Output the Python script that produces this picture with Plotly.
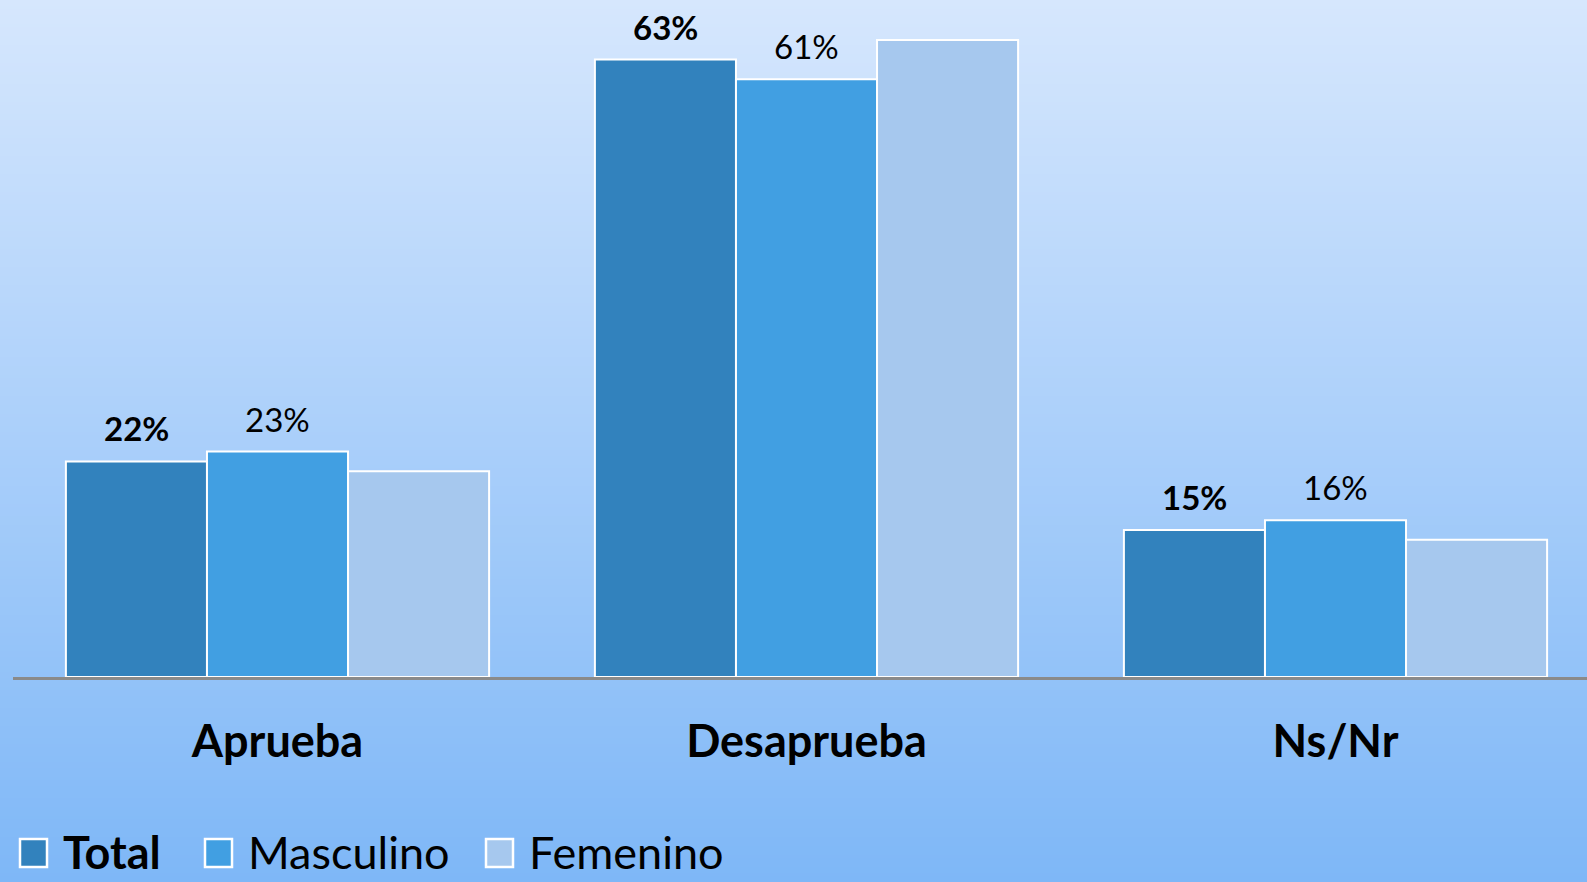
import plotly.graph_objects as go

categories = ["Aprueba", "Desaprueba", "Ns/Nr"]
series_names = ["Total", "Masculino", "Femenino"]
total = [22, 63, 15]
masculino = [23, 61, 16]
femenino = [21, 65, 14]
colors = ["#3282BD", "#419FE2", "#A6C8EE"]

W, H = 1587, 882
ML, MR, MT, MB = 13, 0, 0, 205
PW, PH = W - ML - MR, H - MT - MB

def px_x(x):
    return (x - ML) / PW

def px_y(y):
    return (H - MB - y) / PH

fig = go.Figure()
xs = list(range(len(categories)))
values = [total, masculino, femenino]
for name, vals, col in zip(series_names, values, colors):
    fig.add_trace(go.Bar(
        x=xs, y=vals, name=name, marker=dict(color=col, line=dict(color="white", width=2)),
        showlegend=False,
    ))

# gradient background
shapes = []
top = (214, 231, 253)
bot = (126, 183, 247)
step = 3
for y in range(0, H, step):
    t = (y + step / 2) / H
    c = tuple(round(top[i] + (bot[i] - top[i]) * t) for i in range(3))
    shapes.append(dict(type="rect", xref="paper", yref="paper", layer="below",
                       x0=px_x(0), x1=px_x(W), y0=px_y(y + step + 1), y1=px_y(y),
                       fillcolor="rgb(%d,%d,%d)" % c, line=dict(width=0)))

# data labels
annotations = []
bw = 0.8 / 3
for si, (vals, bold) in enumerate([(total, True), (masculino, False)]):
    for i, v in enumerate(vals):
        txt = f"{v}%"
        annotations.append(dict(x=i + (si - 1) * bw, y=v, xref="x", yref="y", text=f"<b>{txt}</b>" if bold else txt,
                                showarrow=False, yanchor="middle", yshift=33,
                                font=dict(family="Lato", size=33, color="black")))

# legend
leg_items = [(20, 61, True), (205, 246, False), (486, 527, False)]
for (sq, tx, bold), name, col in zip(leg_items, series_names, colors):
    shapes.append(dict(type="rect", xref="paper", yref="paper", x0=px_x(sq), x1=px_x(sq + 27),
                       y0=px_y(867), y1=px_y(839), fillcolor=col, line=dict(color="white", width=2.5)))
    annotations.append(dict(x=px_x(tx), y=px_y(852), xref="paper", yref="paper", xanchor="left", yanchor="middle",
                            text=f"<b>{name}</b>" if bold else name, showarrow=False,
                            font=dict(family="Lato", size=45, color="black")))

fig.update_layout(
    width=W, height=H,
    margin=dict(l=ML, r=MR, t=MT, b=MB, pad=0),
    paper_bgcolor="#7fb8f7", plot_bgcolor="rgba(0,0,0,0)",
    barmode="group", bargap=0.2, bargroupgap=0,
    shapes=shapes, annotations=annotations,
    xaxis=dict(range=[-0.5, -0.5 + PW / 529.0], tickvals=xs, ticktext=[f"<b>{c}</b>" for c in categories],
               showline=True, linecolor="#8a8a8a", linewidth=2.5, ticks="", showgrid=False, zeroline=False,
               ticklabelstandoff=23, tickfont=dict(family="Lato", size=45, color="black")),
    yaxis=dict(range=[0, PH / 9.8], visible=False, showgrid=False, zeroline=False),
)

fig.write_html("out.html", config={"displayModeBar": False},
               post_script="document.body.style.margin='0';document.body.style.overflow='hidden';")
